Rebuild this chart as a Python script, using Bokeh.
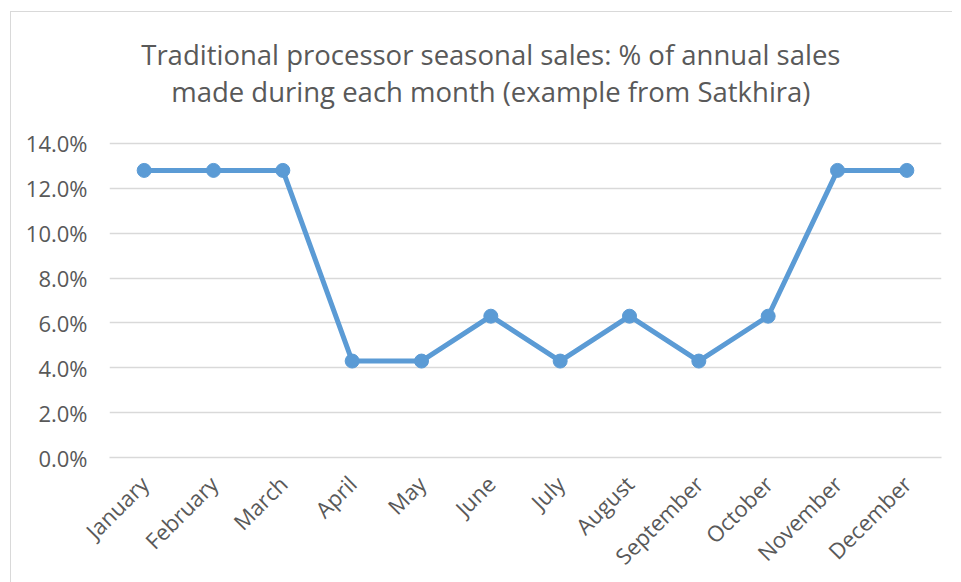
from bokeh.plotting import figure
from bokeh.models import Range1d, FactorRange, FixedTicker, PrintfTickFormatter, Label
from bokeh.embed import file_html
from bokeh.resources import INLINE
import math

months = ["January", "February", "March", "April", "May", "June", "July",
          "August", "September", "October", "November", "December"]
share_pct = [12.8, 12.8, 12.8, 4.3, 4.3, 6.3, 4.3, 6.3, 4.3, 6.3, 12.8, 12.8]
y_ticks = [0, 2, 4, 6, 8, 10, 12, 14]
title_lines = ["Traditional processor seasonal sales: % of annual sales",
               "made during each month (example from Satkhira)"]

LINE = "#5B9BD5"
TEXT = "#595959"
GRID = "#D9D9D9"
FONT = "Open Sans"

# plot area extends above the 14% line so the title can sit inside it
p = figure(frame_width=832, frame_height=437, output_backend="svg",
           toolbar_location=None,
           x_range=FactorRange(*months, range_padding=0),
           y_range=Range1d(0, 19.484),
           min_border_left=98, min_border_right=11, min_border_top=8,
           min_border_bottom=118)
p.styles = {"margin-left": "10px", "margin-top": "11px",
            "border-left": "1px solid #D9D9D9", "border-top": "1px solid #D9D9D9"}

# title: two centred lines (x = centre of "June", i.e. centre of chart)
title_x = months.index("June") + 0.5
for line_text, y_pos in zip(title_lines, [17.97, 16.30]):
    p.add_layout(Label(x=title_x, y=y_pos, x_units="data", y_units="data",
                       text=line_text, text_align="center",
                       text_baseline="alphabetic", text_font=FONT,
                       text_font_size="27.5px", text_color=TEXT))

p.outline_line_color = None
p.background_fill_color = "white"
p.border_fill_color = "white"

p.xgrid.grid_line_color = None
p.ygrid.grid_line_color = GRID
p.ygrid.grid_line_width = 1.3

p.yaxis.ticker = FixedTicker(ticks=y_ticks)
p.yaxis.formatter = PrintfTickFormatter(format="%.1f%%")
p.yaxis.axis_line_color = None
p.yaxis.major_tick_line_color = None
p.yaxis.minor_tick_line_color = None
p.yaxis.major_tick_out = 0
p.yaxis.minor_tick_out = 0
p.yaxis.major_label_standoff = 22
p.yaxis.major_label_text_font = FONT
p.yaxis.major_label_text_font_size = "22px"
p.yaxis.major_label_text_color = TEXT

p.xaxis.axis_line_color = GRID
p.xaxis.axis_line_width = 1.3
p.xaxis.major_tick_line_color = None
p.xaxis.minor_tick_line_color = None
p.xaxis.major_tick_out = 0
p.xaxis.major_label_orientation = math.pi / 4
p.xaxis.major_label_standoff = 22
p.xaxis.major_label_text_font = FONT
p.xaxis.major_label_text_font_size = "22px"
p.xaxis.major_label_text_color = TEXT

p.line(months, share_pct, line_color=LINE, line_width=5)
p.scatter(months, share_pct, size=14, fill_color=LINE, line_color=LINE)

open("out.html", "w").write(file_html(p, INLINE))
